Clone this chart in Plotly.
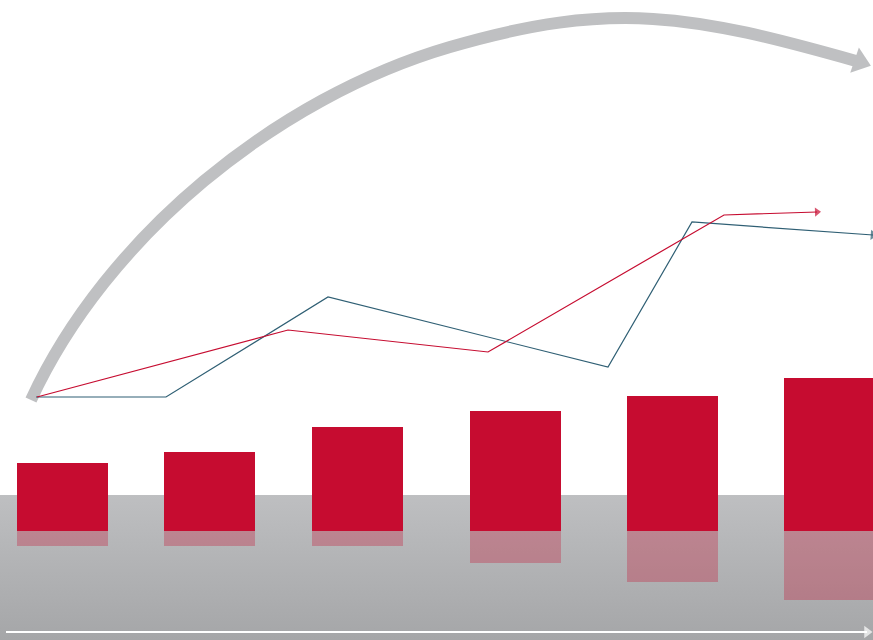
import plotly.graph_objects as go

# ---- data (y: value above the bar baseline) ----
bar_x = [62, 209.5, 357.5, 515, 672.5, 829.5]
bar_values = [68, 79, 104, 120, 135, 153]
reflection_values = [15, 15, 15, 32, 51, 69]

red_x = [37, 288, 488, 724, 817]
red_y = [134, 201, 179, 316, 319]

blue_x = [36, 166, 328, 608, 692, 873]
blue_y = [134, 134, 234, 164, 309, 296]

# decorative arc: two cubic Bezier segments (anchor / control points, in axis units)
arc_anchor_x = [31, 450, 856]
arc_anchor_y = [131, 484, 470]
arc_ctrl_x = [106.6, 277.2, 613, 693]
arc_ctrl_y = [294.8, 433.6, 531.6, 516]
arc_head_x = [860]
arc_head_y = [469]

floor_x = [0, 873, 873, 0]
floor_y = [-109, -109, 36, 36]

axis_x = [6, 867]
axis_y = [-101, -101]

X_RANGE = [0, 873]
Y_RANGE = [-109, 531]

RED = "#c60c30"
BLUE = "#2f5f74"
ARC = "#bfc0c2"

fig = go.Figure()

# grey floor with vertical gradient (bottom subplot layer)
fig.add_trace(go.Scatter(
    x=floor_x, y=floor_y, fill="toself", mode="none",
    fillgradient=dict(type="vertical",
                      colorscale=[[0, "#a5a6a8"], [1, "#bebfc1"]]),
    hoverinfo="skip", showlegend=False, xaxis="x", yaxis="y"))

# everything else on an overlaid subplot so it is drawn above the floor
ov = dict(xaxis="x2", yaxis="y2", hoverinfo="skip", showlegend=False)

fig.add_trace(go.Bar(x=bar_x, y=bar_values, width=91, base=0,
                     marker=dict(color=RED, line=dict(width=0)), **ov))
fig.add_trace(go.Bar(x=bar_x, y=[-v for v in reflection_values], width=91, base=0,
                     marker=dict(color="rgba(198,12,48,0.3)", line=dict(width=0)), **ov))

# white axis arrow on the floor
fig.add_trace(go.Scatter(
    x=axis_x, y=axis_y, mode="lines+markers",
    line=dict(color="white", width=2),
    marker=dict(symbol="triangle-right", size=[0, 11], color="white",
                line=dict(width=0)), **ov))

# big grey arc arrow
ax, ay, cx, cy = arc_anchor_x, arc_anchor_y, arc_ctrl_x, arc_ctrl_y
arc_path = (f"M {ax[0]},{ay[0]} "
            f"C {cx[0]},{cy[0]} {cx[1]},{cy[1]} {ax[1]},{ay[1]} "
            f"C {cx[2]},{cy[2]} {cx[3]},{cy[3]} {ax[2]},{ay[2]}")
fig.add_shape(type="path", path=arc_path, xref="x2", yref="y2",
              line=dict(color=ARC, width=12), layer="below")
fig.add_trace(go.Scatter(
    x=arc_head_x, y=arc_head_y, mode="markers",
    marker=dict(symbol="triangle-right", size=23, angle=19, color=ARC,
                line=dict(width=0)), **ov))

# blue and red lines with arrow tips
fig.add_trace(go.Scatter(
    x=blue_x, y=blue_y, mode="lines+markers",
    line=dict(color=BLUE, width=1.2),
    marker=dict(symbol="triangle-up", angleref="previous",
                size=[0] * (len(blue_x) - 1) + [9], color=BLUE,
                line=dict(width=0)), **ov))
fig.add_trace(go.Scatter(
    x=red_x, y=red_y, mode="lines+markers",
    line=dict(color=RED, width=1.2),
    marker=dict(symbol="triangle-up", angleref="previous",
                size=[0] * (len(red_x) - 1) + [8], color=RED,
                line=dict(width=0)), **ov))

fig.update_layout(
    width=873, height=640,
    margin=dict(l=0, r=0, t=0, b=0),
    paper_bgcolor="white", plot_bgcolor="white",
    barmode="overlay", bargap=0,
    xaxis=dict(range=X_RANGE, visible=False, fixedrange=True),
    yaxis=dict(range=Y_RANGE, visible=False, fixedrange=True),
    xaxis2=dict(range=X_RANGE, visible=False, fixedrange=True, overlaying="x"),
    yaxis2=dict(range=Y_RANGE, visible=False, fixedrange=True, overlaying="y"),
    showlegend=False,
)

fig.write_html("out.html", config={"displayModeBar": False},
               post_script="document.body.style.margin='0';document.body.style.overflow='hidden';")
